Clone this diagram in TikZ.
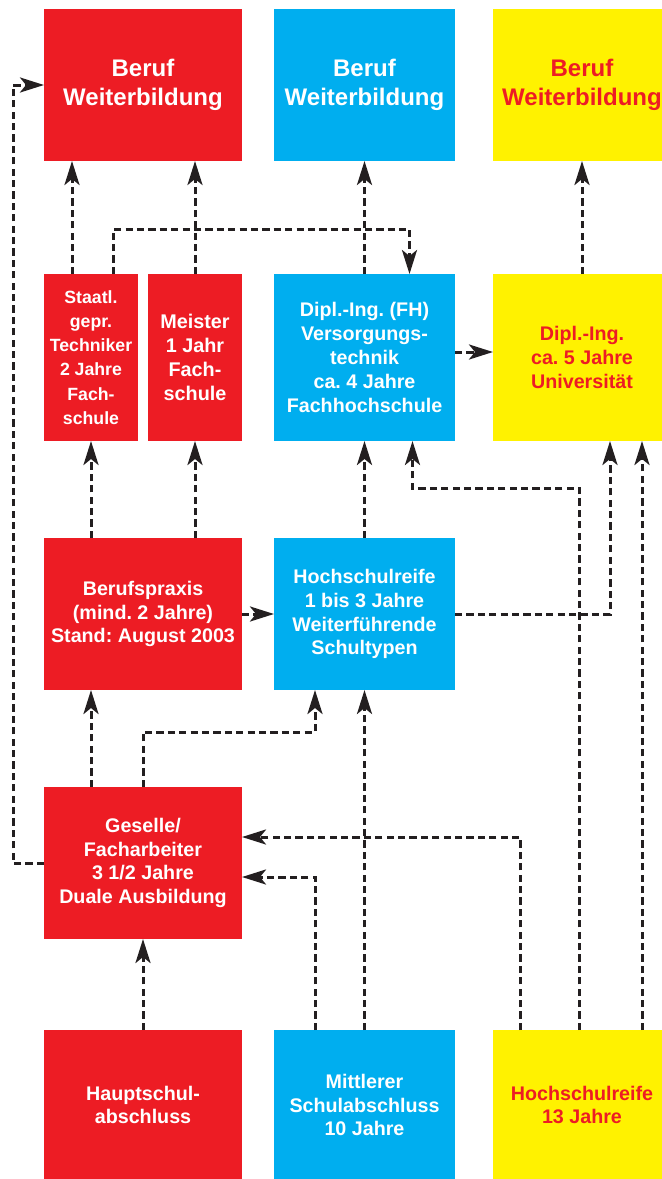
\documentclass[tikz,border=0pt]{standalone}
\usepackage{fontspec}
\setmainfont{Liberation Sans}
\usetikzlibrary{arrows.meta}
\definecolor{cred}{HTML}{ED1C24}
\definecolor{cblue}{HTML}{00AEEF}
\definecolor{cyel}{HTML}{FFF200}
\definecolor{cline}{HTML}{231F20}
\frenchspacing
\begin{document}
\begin{tikzpicture}[x=0.5pt,y=-0.5pt,
  box/.style={inner sep=0pt, outer sep=0pt, align=center, text=white,
    font=\bfseries\fontsize{9.85}{11.9}\selectfont},
  topbox/.style={box, font=\bfseries\fontsize{12}{14.5}\selectfont},
  redbox/.style={box, fill=cred},
  bluebox/.style={box, fill=cblue},
  yelbox/.style={box, fill=cyel, text=cred},
  conn/.style={draw=cline, line width=1.5pt, dash pattern=on 3.6pt off 2.1pt,
    -{Stealth[length=12pt,width=7.5pt,inset=3pt]}}
]
\useasboundingbox (0,0) rectangle (662,1179);
\clip (0,0) rectangle (662,1179);
% row 1
\node[redbox, topbox, minimum width=99pt, minimum height=76pt] (b1) at (143,85) {Beruf\\Weiterbildung};
\node[bluebox, topbox, minimum width=90.5pt, minimum height=76pt] (b2) at (364.5,85) {Beruf\\Weiterbildung};
\node[yelbox, topbox, text=cred, minimum width=89pt, minimum height=76pt] (b3) at (582,85) {Beruf\\Weiterbildung};
% row 2
\node[redbox, font=\bfseries\fontsize{8.85}{12.15}\selectfont, minimum width=47pt, minimum height=83.5pt] (st) at (91,357.5) {Staatl.\\gepr.\\Techniker\\2 Jahre\\Fach-\\schule};
\node[redbox, font=\bfseries\fontsize{9.9}{12.05}\selectfont, minimum width=47pt, minimum height=83.5pt] (me) at (195,357.5) {Meister\\1 Jahr\\Fach-\\schule};
\node[bluebox, minimum width=90.5pt, minimum height=83.5pt] (fh) at (364.5,357.5) {Dipl.-Ing. (FH)\\Versorgungs-\\technik\\ca. 4 Jahre\\Fachhochschule};
\node[yelbox, minimum width=89pt, minimum height=83.5pt] (uni) at (582,357.5) {Dipl.-Ing.\\ca. 5 Jahre\\Universität};
% row 3
\node[redbox, minimum width=99pt, minimum height=76pt] (bp) at (143,614) {Berufspraxis\\(mind. 2 Jahre)\\Stand: August 2003};
\node[bluebox, minimum width=90.5pt, minimum height=76pt] (hr) at (364.5,614) {Hochschulreife\\1 bis 3 Jahre\\Weiterführende\\Schultypen};
% row 4
\node[redbox, minimum width=99pt, minimum height=76pt] (ge) at (143,863) {Geselle/\\Facharbeiter\\3 1/2 Jahre\\Duale Ausbildung};
% row 5
\node[redbox, minimum width=99pt, minimum height=75pt] (ha) at (143,1105) {Hauptschul-\\abschluss};
\node[bluebox, minimum width=90.5pt, minimum height=75pt] (mi) at (364.5,1105) {Mittlerer\\Schulabschluss\\10 Jahre};
\node[yelbox, minimum width=89pt, minimum height=75pt] (hy) at (582,1105) {Hochschulreife\\13 Jahre};
% connectors
\draw[conn] (ge.west) -- ++(-31,0) |- (b1.west);
\draw[conn] (st.north -| 72,0) -- (b1.south -| 72,0);
\draw[conn] (me.north) -- (b1.south -| me.north);
\draw[conn] (st.north -| 113.5,0) -- (113.5,229) -| (fh.north -| 409.5,0);
\draw[conn] (fh.north) -- (b2.south);
\draw[conn] (uni.north) -- (b3.south);
\draw[conn] (fh.east |- 0,352) -- (uni.west |- 0,352);
\draw[conn] (bp.north -| st.south) -- (st.south);
\draw[conn] (bp.north -| me.south) -- (me.south);
\draw[conn] (hr.north) -- (fh.south);
\draw[conn] (hy.north -| 579,0) -- (579,488) -| (fh.south -| 412.5,0);
\draw[conn] (hr.east) -| (uni.south -| 610,0);
\draw[conn] (hy.north -| 642,0) -- (uni.south -| 642,0);
\draw[conn] (bp.east) -- (hr.west);
\draw[conn] (ge.north -| 91,0) -- (bp.south -| 91,0);
\draw[conn] (ge.north) -- (143,732) -| (hr.south -| 315,0);
\draw[conn] (mi.north) -- (hr.south);
\draw[conn] (ha.north) -- (ge.south);
\draw[conn] (mi.north -| 315,0) |- (ge.east |- 0,877);
\draw[conn] (hy.north -| 520,0) |- (ge.east |- 0,837);
\end{tikzpicture}
\end{document}
